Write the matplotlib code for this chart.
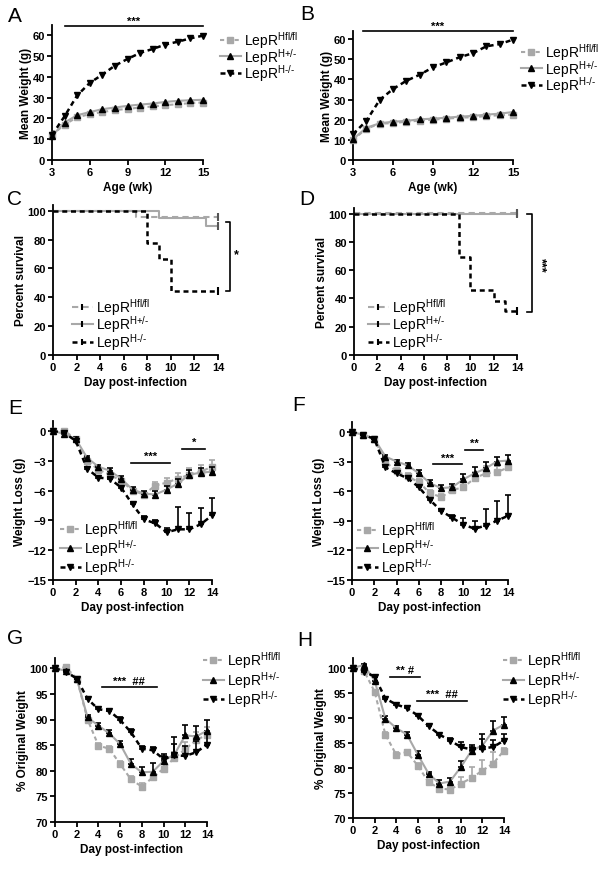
import numpy as np
import matplotlib
matplotlib.use("Agg")
import matplotlib.pyplot as plt
from matplotlib.lines import Line2D

plt.rcParams['font.family'] = ['Liberation Sans', 'DejaVu Sans']
plt.rcParams['font.weight'] = 'bold'
plt.rcParams['axes.labelweight'] = 'bold'
plt.rcParams['mathtext.default'] = 'regular'

GRAY = '#a8a8a8'
W, H = 601, 870

group_labels = ['LepR$^{Hfl/fl}$', 'LepR$^{H{+}/\u2010}$', 'LepR$^{H\u2010/\u2010}$']

# --- A / B: body weight by age ---
age = np.arange(3, 16)
a_fl = [12, 17, 20.5, 22, 23, 24, 24.5, 25.2, 25.7, 26.3, 26.8, 27.3, 27.6]
a_het = [11.6, 18, 21.5, 23, 24.4, 25.2, 26, 26.6, 27.1, 27.9, 28.4, 28.7, 28.9]
a_ko = [12, 21, 31, 37, 41, 45.3, 48.5, 51.4, 53.3, 55.4, 56.8, 58.4, 59.7]

b_fl = [10, 15.5, 18, 18.3, 19, 19.5, 20, 20.5, 21, 21.2, 21.8, 22.2, 22.5]
b_het = [10.3, 16, 18.2, 19, 19.4, 20.2, 20.5, 21, 21.5, 21.9, 22.5, 23, 23.8]
b_ko = [12.8, 19.4, 29.8, 35.2, 39.3, 42.3, 46, 48.4, 51, 53, 56.4, 57.5, 59.7]

# --- C / D: survival (step times, percent) ---
c_fl_t, c_fl_s = [0, 7, 14], [100, 95.8, 95.8]
c_het_t, c_het_s = [0, 9, 13, 14], [100, 94.7, 89.5, 89.5]
c_ko_t, c_ko_s = [0, 8, 9, 10, 14], [100, 77.8, 66.7, 44.4, 44.4]

d_fl_t, d_fl_s = [0, 14], [100.8, 100.8]
d_het_t, d_het_s = [0, 14], [100, 100]
d_ko_t, d_ko_s = [0, 9, 10, 12, 13, 14], [100, 69.2, 46.2, 38.5, 30.8, 30.8]

# --- E / F: weight loss (g) ---
days = np.arange(0, 15)
e_fl = [0, 0, -0.8, -3.0, -3.9, -4.4, -5.0, -6.0, -6.4, -5.5, -5.2, -4.8, -4.4, -4.1, -3.6]
e_het = [0, -0.3, -0.8, -2.7, -3.6, -4.0, -4.8, -5.9, -6.3, -6.4, -5.9, -5.3, -4.4, -4.2, -4.1]
e_ko = [0, -0.2, -1.0, -3.8, -4.7, -4.8, -5.7, -7.4, -8.9, -9.3, -10.2, -9.9, -9.9, -9.4, -8.5]
e_fl_err = [0, 0.1, 0.2, 0.3, 0.3, 0.3, 0.3, 0.3, 0.3, 0.4, 0.5, 0.6, 0.7, 0.7, 0.7]
e_het_err = [0, 0.1, 0.2, 0.2, 0.2, 0.3, 0.3, 0.3, 0.3, 0.4, 0.4, 0.5, 0.5, 0.5, 0.5]
e_ko_err = [0, 0.1, 0.2, 0.2, 0.2, 0.2, 0.2, 0.2, 0.3, 0.3, 0.4, 2.2, 1.6, 1.6, 1.8]

f_fl = [0, -0.3, -0.7, -3.0, -4.0, -4.5, -5.1, -6.2, -6.6, -5.9, -5.6, -4.7, -4.2, -4.1, -3.6]
f_het = [0, -0.3, -0.7, -2.5, -3.0, -3.4, -4.2, -5.2, -5.7, -5.6, -4.8, -4.2, -3.7, -3.0, -2.9]
f_ko = [0, -0.3, -0.7, -3.6, -4.2, -4.7, -5.6, -6.9, -8.0, -8.7, -9.4, -9.8, -9.5, -9.0, -8.5]
f_fl_err = [0, 0.1, 0.1, 0.2, 0.3, 0.3, 0.3, 0.3, 0.3, 0.4, 0.5, 0.6, 0.7, 0.6, 0.6]
f_het_err = [0, 0.1, 0.1, 0.2, 0.2, 0.2, 0.3, 0.3, 0.3, 0.3, 0.5, 0.6, 0.6, 0.5, 0.6]
f_ko_err = [0, 0.1, 0.1, 0.2, 0.2, 0.2, 0.2, 0.2, 0.2, 0.3, 0.7, 0.8, 1.7, 2.0, 2.1]

# --- G / H: % original weight ---
g_fl = [100, 100.2, 98, 90, 84.9, 84.3, 81.3, 78.3, 76.9, 78.7, 80.4, 82.5, 84.2, 86, 87]
g_het = [100, 99.5, 98, 90.4, 88.8, 87.3, 85.2, 81.3, 79.7, 79.8, 81.9, 83.2, 86.9, 86.7, 87.8]
g_ko = [100, 99.3, 98, 94.0, 92.0, 91.7, 89.9, 87.5, 84.3, 84.0, 82.3, 83.0, 82.9, 83.6, 85.1]
g_fl_err = [0, 0.2, 0.3, 0.5, 0.5, 0.5, 0.6, 0.6, 0.7, 0.8, 0.9, 1.2, 1.5, 1.5, 1.5]
g_het_err = [0, 0.2, 0.3, 0.5, 0.6, 0.7, 0.7, 0.9, 1.0, 1.8, 1.0, 2.0, 2.0, 2.0, 2.1]
g_ko_err = [0, 0.2, 0.3, 0.4, 0.4, 0.4, 0.5, 0.6, 0.6, 0.6, 1.0, 3.5, 2.0, 2.3, 2.3]

h_fl = [100, 99.5, 95.3, 86.7, 82.7, 83.2, 80.5, 77.2, 75.9, 75.7, 76.9, 78, 79.5, 80.9, 83.5]
h_het = [100, 100.6, 97.5, 89.9, 88, 86.7, 82.7, 78.9, 76.9, 77.3, 80.2, 83.5, 84.5, 87.5, 88.7]
h_ko = [100, 99.3, 98.3, 93.9, 92.7, 92.0, 90.5, 88.4, 86.7, 85.5, 84.2, 83.7, 83.9, 84.2, 85.5]
h_fl_err = [0, 0.2, 0.4, 0.6, 0.5, 0.5, 0.5, 0.5, 0.5, 0.6, 1.3, 2.2, 2.2, 2.3, 0.5]
h_het_err = [0, 0.2, 0.8, 0.5, 0.5, 0.6, 0.7, 0.4, 0.8, 0.8, 1.3, 0.8, 2.4, 2.0, 1.6]
h_ko_err = [0, 0.2, 0.3, 0.3, 0.3, 0.3, 0.4, 0.4, 0.4, 0.5, 1.0, 1.0, 2.0, 1.5, 1.3]


fig = plt.figure(figsize=(W / 100, H / 100), dpi=100)


def add_ax(left, right, top, bottom):
    return fig.add_axes([left / W, 1 - bottom / H, (right - left) / W, (bottom - top) / H])


def style(ax, xlim, ylim, xticks, yticks, xlabel, ylabel):
    ax.set_xlim(*xlim)
    ax.set_ylim(*ylim)
    ax.set_xticks(xticks)
    ax.set_yticks(yticks)
    for s in ['top', 'right']:
        ax.spines[s].set_visible(False)
    for s in ['left', 'bottom']:
        ax.spines[s].set_linewidth(1.3)
    ax.tick_params(direction='out', length=3.5, width=1.3, labelsize=8, pad=1.5)
    ax.set_xlabel(xlabel, fontsize=8.5, labelpad=3)
    ax.set_ylabel(ylabel, fontsize=8.5, labelpad=0.5)


def line_handles(survival=False):
    if survival:
        return [Line2D([], [], color=GRAY, ls=(0, (3, 2)), lw=1.5, marker='|', mec='k', ms=5, mew=1.5),
                Line2D([], [], color=GRAY, ls='-', lw=1.5, marker='|', mec='k', ms=5, mew=1.5),
                Line2D([], [], color='k', ls=(0, (2, 1.5)), lw=1.8, marker='|', mec='k', ms=5, mew=1.5)]
    return [Line2D([], [], color=GRAY, ls=(0, (2, 1.5)), lw=1.5, marker='s', mfc=GRAY, mec=GRAY, ms=4.5),
            Line2D([], [], color=GRAY, ls='-', lw=1.5, marker='^', mfc='k', mec='k', ms=4.5),
            Line2D([], [], color='k', ls=(0, (2, 1.5)), lw=1.8, marker='v', mfc='k', mec='k', ms=4.5)]


def add_legend(ax, x, top, survival=False, spacing=-0.3):
    ax.legend(line_handles(survival), group_labels, loc='upper left',
              bbox_to_anchor=(x / W, 1 - top / H), bbox_transform=fig.transFigure,
              frameon=False, borderpad=0, borderaxespad=0, handlelength=1.5,
              handletextpad=0.2, labelspacing=spacing,
              prop={'size': 10, 'weight': 'normal'})


def growth(ax, fl, het, ko):
    ax.plot(age, fl, color=GRAY, ls=(0, (2, 1.5)), lw=1.5, marker='s', mfc=GRAY, mec=GRAY, ms=4, clip_on=False, zorder=3)
    ax.plot(age, het, color=GRAY, ls='-', lw=1.5, marker='^', mfc='k', mec='k', ms=4, clip_on=False, zorder=4)
    ax.plot(age, ko, color='k', ls=(0, (2, 1.5)), lw=1.8, marker='v', mfc='k', mec='k', ms=4.5, clip_on=False, zorder=5)


def survival(ax, curves):
    styles = [(GRAY, (0, (3, 2)), 1.5), (GRAY, '-', 1.5), ('k', (0, (2, 1.5)), 1.8)]
    for (t, s), (c, ls, lw) in zip(curves, styles):
        ax.step(t, s, where='post', color=c, ls=ls, lw=lw, clip_on=False)
        ax.plot([t[-1]], [s[-1]], marker='|', color=c if c == 'k' else '#555555', ms=6, mew=1.5, clip_on=False)


def timecourse(ax, fl, het, ko, fl_err, het_err, ko_err):
    z = np.zeros(len(days))
    ax.errorbar(days, fl, yerr=[z, fl_err], color=GRAY, ls=(0, (2, 1.5)), lw=1.5, marker='s', mfc=GRAY, mec=GRAY,
                ms=4.5, capsize=2.5, elinewidth=1.2, capthick=1.2, clip_on=False, zorder=3)
    ax.errorbar(days, het, yerr=[z, het_err], color=GRAY, ls='-', lw=1.5, marker='^', mfc='k', mec='k',
                ms=4.5, ecolor='k', capsize=2.5, elinewidth=1.2, capthick=1.2, clip_on=False, zorder=4)
    ax.errorbar(days, ko, yerr=[z, ko_err], color='k', ls=(0, (2, 1.5)), lw=1.8, marker='v', mfc='k', mec='k',
                ms=4.5, capsize=2.5, elinewidth=1.2, capthick=1.2, clip_on=False, zorder=5)


def sig_bar(ax, x0, x1, y, text, dy):
    ax.plot([x0, x1], [y, y], color='k', lw=1.2, clip_on=False)
    ax.text((x0 + x1) / 2, y + dy, text, ha='center', va='bottom', fontsize=8, clip_on=False)


day_ticks = np.arange(0, 15, 2)

# A
axA = add_ax(52, 203, 25.6, 161)
growth(axA, a_fl, a_het, a_ko)
style(axA, (3, 15), (0, 65), [3, 6, 9, 12, 15], np.arange(0, 61, 10), 'Age (wk)', 'Mean Weight (g)')
sig_bar(axA, 4.0, 15, 64.3, '***', 0.3)
add_legend(axA, 220, 30)

# B
axB = add_ax(353, 513, 32, 161)
growth(axB, b_fl, b_het, b_ko)
style(axB, (3, 15), (0, 64), [3, 6, 9, 12, 15], np.arange(0, 61, 10), 'Age (wk)', 'Mean Weight (g)')
sig_bar(axB, 3.75, 15, 64, '***', 0.3)
add_legend(axB, 521, 42)

# C
axC = add_ax(53, 218, 206, 356)
survival(axC, [(c_fl_t, c_fl_s), (c_het_t, c_het_s), (c_ko_t, c_ko_s)])
style(axC, (0, 14), (0, 104), day_ticks, np.arange(0, 101, 20), 'Day post-infection', 'Percent survival')
axC.plot([14.7, 15.0, 15.0, 14.7], [92.5, 92.5, 44.5, 44.5], color='k', lw=1.2, clip_on=False)
axC.text(15.55, 70, '*', ha='center', va='center', fontsize=9, clip_on=False)
add_legend(axC, 72, 297, survival=True, spacing=-0.25)

# D
axD = add_ax(354, 517, 209, 356)
survival(axD, [(d_fl_t, d_fl_s), (d_het_t, d_het_s), (d_ko_t, d_ko_s)])
style(axD, (0, 14), (0, 104), day_ticks, np.arange(0, 101, 20), 'Day post-infection', 'Percent survival')
axD.plot([14.9, 15.3, 15.3, 14.9], [100, 100, 30.5, 30.5], color='k', lw=1.2, clip_on=False)
axD.text(16.0, 64, '***', ha='center', va='center', rotation=270, fontsize=9, clip_on=False)
add_legend(axD, 368, 297, survival=True, spacing=-0.25)

# E
axE = add_ax(53, 212, 422, 581)
timecourse(axE, e_fl, e_het, e_ko, e_fl_err, e_het_err, e_ko_err)
style(axE, (0, 14), (-15, 1), day_ticks, np.arange(-15, 1, 3), 'Day post-infection', 'Weight Loss (g)')
sig_bar(axE, 6.9, 10.3, -3.2, '***', 0.15)
sig_bar(axE, 11.4, 13.4, -1.8, '*', 0.15)
add_legend(axE, 60, 519, spacing=-0.12)

# F
axF = add_ax(352, 508, 423, 581)
timecourse(axF, f_fl, f_het, f_ko, f_fl_err, f_het_err, f_ko_err)
style(axF, (0, 14), (-15, 1), day_ticks, np.arange(-15, 1, 3), 'Day post-infection', 'Weight Loss (g)')
sig_bar(axF, 7.3, 9.9, -3.3, '***', 0.15)
sig_bar(axF, 10.1, 11.8, -1.8, '**', 0.15)
add_legend(axF, 357, 520, spacing=-0.18)

# G
axG = add_ax(55, 207, 659, 823)
timecourse(axG, g_fl, g_het, g_ko, g_fl_err, g_het_err, g_ko_err)
style(axG, (0, 14), (70, 102), day_ticks, np.arange(70, 101, 5), 'Day post-infection', '% Original Weight')
sig_bar(axG, 4.3, 9.4, 96.3, '***  ##', 0.3)
add_legend(axG, 203, 650, spacing=-0.08)

# H
axH = add_ax(353, 504, 659, 819)
timecourse(axH, h_fl, h_het, h_ko, h_fl_err, h_het_err, h_ko_err)
style(axH, (0, 14), (70, 102), day_ticks, np.arange(70, 101, 5), 'Day post-infection', '% Original Weight')
sig_bar(axH, 3.4, 6.2, 98.2, '** #', 0.3)
sig_bar(axH, 5.9, 10.6, 93.4, '***  ##', 0.3)
add_legend(axH, 503, 650, spacing=-0.08)

# panel letters
for letter, x, y in [('A', 15, 16), ('B', 307, 15), ('C', 14, 200), ('D', 307, 200),
                     ('E', 15, 408), ('F', 299, 406), ('G', 15, 639), ('H', 305, 641)]:
    fig.text(x / W, 1 - y / H, letter, fontsize=15, fontweight='normal', ha='center', va='center')

fig.savefig('out.png', dpi=100)
